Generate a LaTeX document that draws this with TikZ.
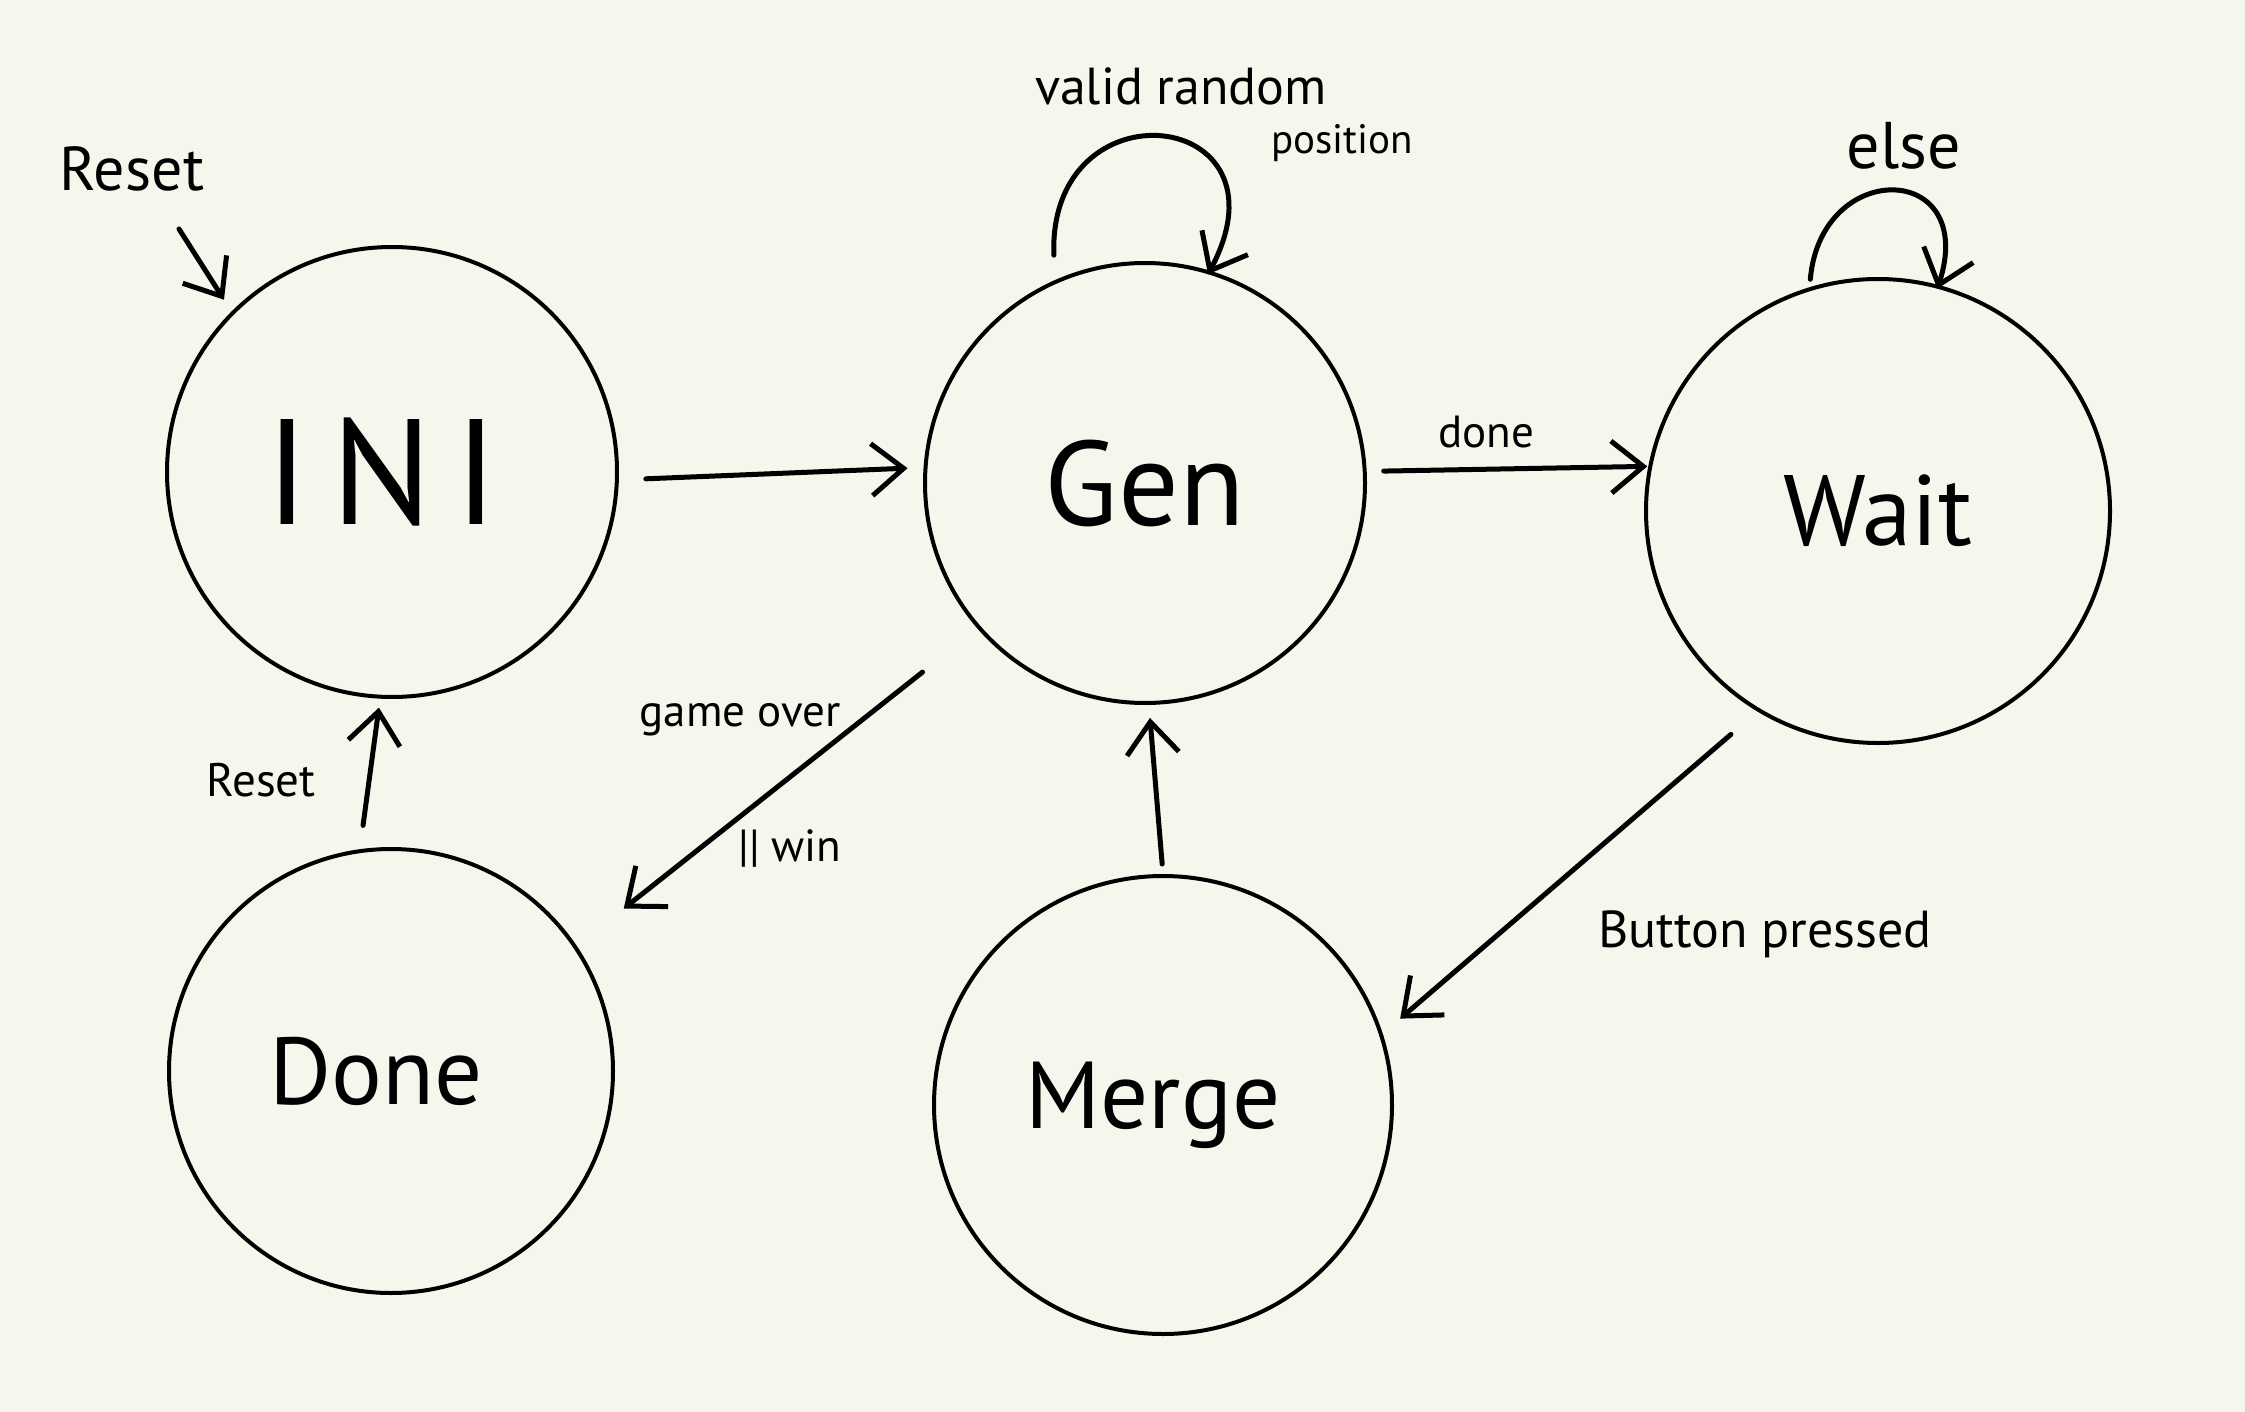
\documentclass[tikz,border=0pt]{standalone}
\usepackage{fontspec}
\setmainfont{PT Sans}
\usetikzlibrary{arrows.meta}
\definecolor{paper}{HTML}{F6F6EC}
\tikzset{
  state/.style={circle, draw=black, line width=4pt, inner sep=0pt},
  arr/.style={draw=black, line width=5pt, line cap=round, line join=round,
    -{Straight Barb[length=32pt,width=52pt,line width=5pt]}},
  lbl/.style={inner sep=0pt, text=black},
}
\newcommand{\fs}[1]{\fontsize{#1}{#1}\selectfont}
\begin{document}
\begin{tikzpicture}[x=1pt,y=-1pt]
\fill[paper] (0,0) rectangle (2245,1412);
\useasboundingbox (0,0) rectangle (2245,1412);

% states
\node[state, minimum size=450pt] (ini) at (392,472) {\hspace*{-20pt}\fs{150}\addfontfeature{LetterSpace=15}INI};
\node[state, minimum size=440pt] (gen) at (1145,483) {\fs{120}Gen};
\node[state, minimum size=464pt] (wait) at (1878,511) {\fs{100}Wait};
\node[state, minimum size=444pt] (done) at (391,1071) {\hspace*{-30pt}\fs{95}Done};
\node[state, minimum size=458pt] (merge) at (1163,1105) {\hspace*{-20pt}\fs{95}Merge};

% labels
\node[lbl] (lreset) at (132,169) {\fs{62}Reset};
\node[lbl] (lvalid) at (1181,86) {\fs{52}valid random};
\node[lbl] (lpos) at (1342,143) {\fs{41}position};
\node[lbl] (lelse) at (1904,146) {\fs{66}else};
\node[lbl] (ldone) at (1486,432) {\fs{45}done};
\node[lbl] (lgame) at (740,720) {\fs{45}game over};
\node[lbl] (lwin) at (790,848) {\fs{45}|| win};
\node[lbl] (lbutton) at (1765,934) {\fs{52}Button pressed};
\node[lbl] (lreset2) at (261,780) {\fs{47}Reset};

% initial arrow
\coordinate (rs) at (179,229);
\draw[arr, shorten >=14pt] (rs) -- (ini.135);

% transitions
\draw[arr, shorten <=27pt, shorten >=16pt] (ini.358) -- (gen.176);
\draw[arr, shorten <=17pt, shorten >=1pt] (gen.3) -- (wait.169);
\draw[arr, shorten <=70pt, shorten >=60pt] (gen.221) -- (done.34);
\draw[arr, shorten <=35pt, shorten >=23pt] (wait.239) -- (merge.18);
\draw[arr, shorten <=10pt, shorten >=13pt] (merge.90) -- (gen.271);
\draw[arr, shorten <=24pt, shorten >=9pt] (done.98) -- (ini.267);

% self loops
\draw[arr, shorten <=25pt, shorten >=-4pt] (gen.114) .. controls +(-92:200) and +(-62:185) .. (gen.73);
\draw[arr, shorten <=8pt, shorten >=-4pt] (wait.107) .. controls +(-85:130) and +(-72:130) .. (wait.75);
\end{tikzpicture}
\end{document}
